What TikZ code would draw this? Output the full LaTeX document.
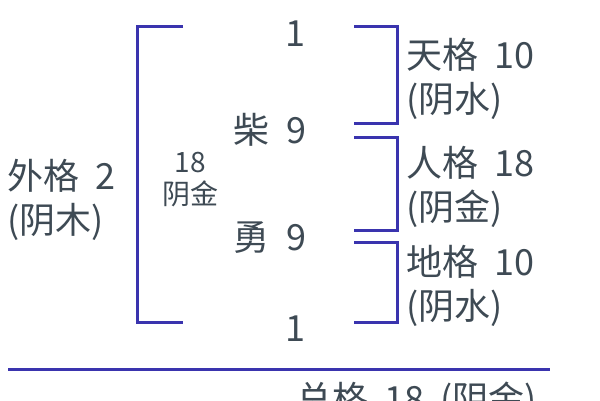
\documentclass[tikz,border=0pt]{standalone}
\usepackage{fontspec}
\setmainfont{Noto Sans CJK SC}
\usetikzlibrary{positioning}

\definecolor{textgray}{HTML}{3E4A54}
\definecolor{bracketblue}{HTML}{3A34AE}
\newcommand{\gp}{\hspace{0.45em}}

\begin{document}
\begin{tikzpicture}[%
    x=1pt,
    y=-1pt,
    line width=3pt,
    line cap=butt,
    txt/.style={%
      text=textgray,
      font=\fontsize{36}{44}\selectfont,
      inner sep=0pt,
      align=left
    },
    small/.style={%
      text=textgray,
      font=\fontsize{28}{32}\selectfont,
      inner sep=0pt,
      align=center
    },
    brk/.style={%
      draw=bracketblue
    }
  ]
    \useasboundingbox (0,0) rectangle (600,400);
    \clip (0,0) rectangle (600,400);

    % the four strokes of the name
    \node[txt] (top) at (295,34) {1};
    \node[txt] (chai) at (270,130) {柴\gp9};
    \node[txt] (yong) at (270,238) {勇\gp9};
    \node[txt] (bottom) at (295,329) {1};

    % grids
    \node[small] (inner) at (190,180) {18\\阴金};
    \node[txt, anchor=west] (wai) at (6,200) {外格\gp2\\(阴木)};
    \node[txt, anchor=west] (tian) at (405,79) {天格\gp10\\(阴水)};
    \node[txt, anchor=west] (ren) at (405,187) {人格\gp18\\(阴金)};
    \node[txt, anchor=west] (di) at (405,286) {地格\gp10\\(阴水)};
    \node[txt, anchor=north west] (zong) at (295,380) {总格\gp18\gp(阴金)};

    % bracket ends
    \coordinate (L1) at (183,26);
    \coordinate (L2) at (183,322);
    \coordinate (T1) at (354,26);
    \coordinate (T2) at (354,123);
    \coordinate (R1) at (354,137);
    \coordinate (R2) at (354,230);
    \coordinate (D1) at (354,242);
    \coordinate (D2) at (354,322);
    \coordinate (S1) at (8,369);
    \coordinate (S2) at (550,369);

    \draw[brk] (L1) -| (137,322) -- (L2);
    \draw[brk] (T1) -| (397,123) -- (T2);
    \draw[brk] (R1) -| (397,230) -- (R2);
    \draw[brk] (D1) -| (397,322) -- (D2);
    \draw[brk] (S1) -- (S2);
\end{tikzpicture}
\end{document}
